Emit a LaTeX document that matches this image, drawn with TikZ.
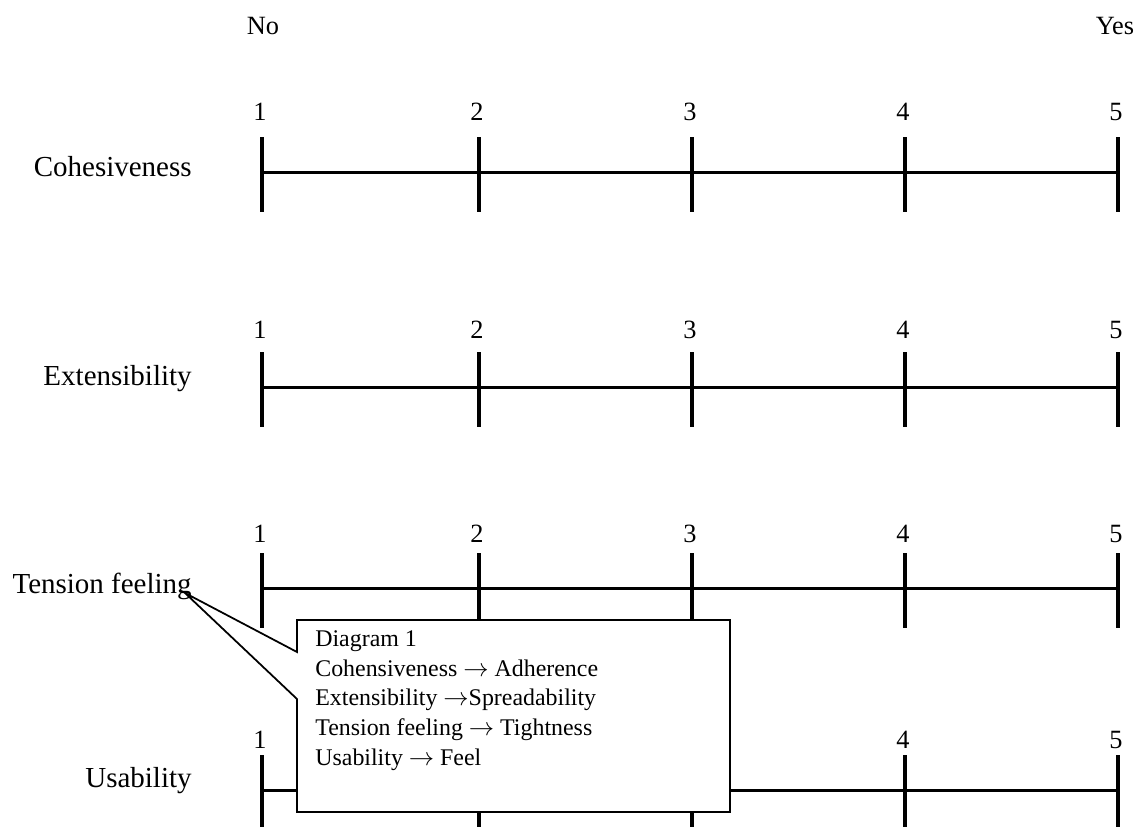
\documentclass[tikz,border=0pt]{standalone}
\usepackage{fontspec}
\setmainfont{Liberation Serif}
\usepackage{tikz}

\begin{document}
\begin{tikzpicture}[x=0.02cm, y=-0.02cm,
                    rowlabel/.style={anchor=base east, inner sep=0pt, font=\fontsize{16.5}{19}\selectfont},
                    num/.style={anchor=base, inner sep=0pt, font=\fontsize{15}{18}\selectfont},
                    bar/.style={line width=1.7pt},
                    tick/.style={line width=2.2pt},
                    memo/.style={draw, line width=1pt, fill=white, line join=miter},
                    memotext/.style={anchor=north west, inner sep=0pt, align=left, font=\fontsize{13.6}{17}\selectfont}]

    \useasboundingbox (0,0) rectangle (1137,826);

    % ends of the scale
    \node[num] (no) at (263,34) {No};
    \node[num] (yes) at (1115,34) {Yes};

    % scales: row / line y / number baseline / label baseline / label
    \foreach \r/\ly/\ny/\tb/\txt in {1/172/120/176/Cohesiveness,
                                     2/387/338/385/Extensibility,
                                     3/588/542/593/Tension feeling,
                                     4/790/748/787/Usability}{
        \node[rowlabel] (lab\r) at (192,\tb) {\txt};
        \foreach \i/\x in {1/262,2/479,3/692,4/905,5/1118}{
            \coordinate (s\r\i) at (\x,\ly);
            % 2 and 3 of the last row sit under the callout
            \ifnum\r\i=42\else\ifnum\r\i=43\else
                \node[num] (n\r\i) at (\x-2,\ny) {\i};
            \fi\fi
            \draw[tick] (s\r\i) ++(0,-35) -- ++(0,75);
        }
        \draw[bar] (s\r1) -- (s\r5);
    }

    % callout
    \coordinate (tip) at (185,593);
    \draw[memo] (297,620) -- (730,620) -- (730,812) -- (297,812) -- (297,699)
                -- (tip) -- (297,652) -- cycle;
    \node[memotext] (memo) at (315,630) {Diagram 1\\
        Cohensiveness $\rightarrow$ Adherence\\
        Extensibility $\rightarrow$Spreadability\\
        Tension feeling $\rightarrow$ Tightness\\
        Usability $\rightarrow$ Feel};
\end{tikzpicture}
\end{document}
